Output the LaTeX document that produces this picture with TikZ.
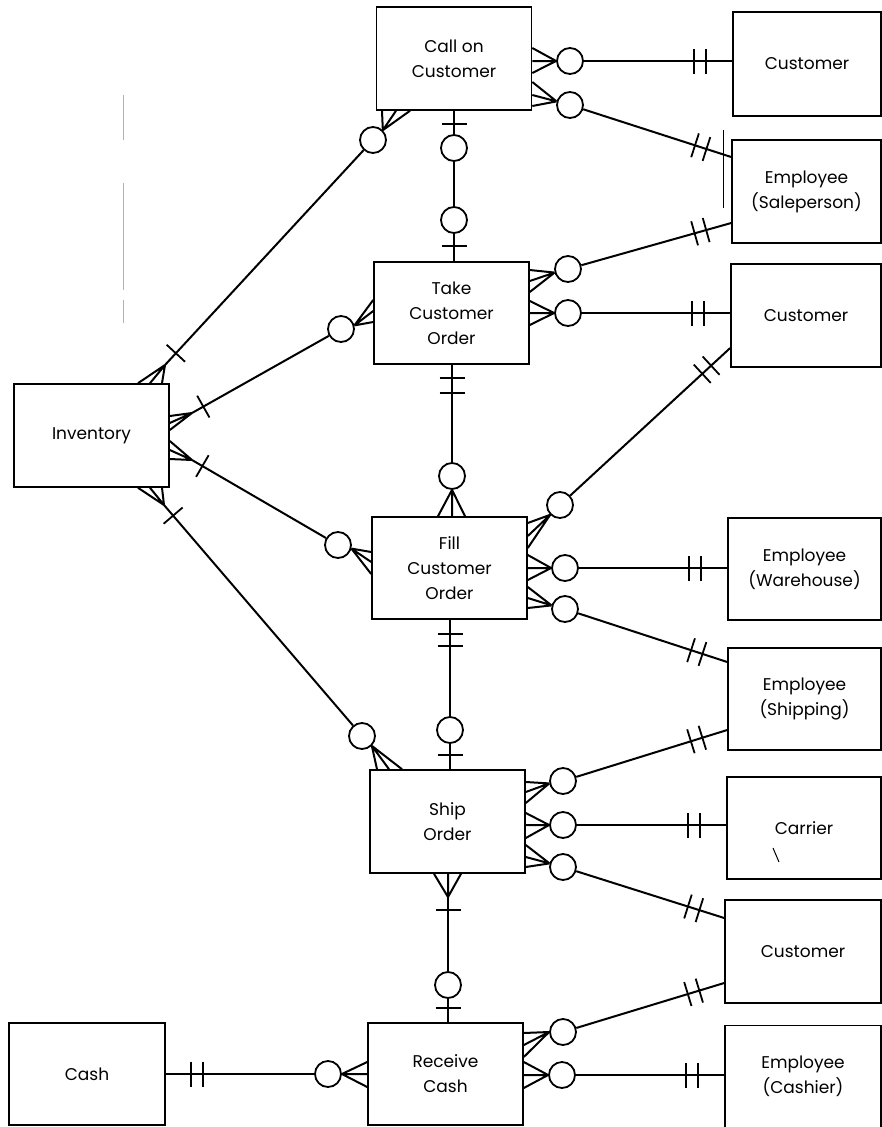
\documentclass[tikz,border=0pt]{standalone}
\usepackage{fontspec}
\setmainfont{Poppins}
\usetikzlibrary{calc,decorations.markings}

% crow's foot: three lines from a meeting point to three points on a box edge
\newcommand\crowfoot[4]{\draw[conn] (#1) -- (#2) (#1) -- (#3) (#1) -- (#4);}

\tikzset{
  box/.style={draw, line width=1.6pt, minimum width=155pt, minimum height=103pt,
    align=center, inner sep=0pt, font=\fontsize{17}{25}\selectfont},
  zc/.style={draw, circle, line width=1.8pt, minimum size=26pt, inner sep=0pt, fill=white},
  conn/.style={line width=2pt},
  crossbar/.style={postaction={decorate, decoration={markings,
    mark=at position #1 with {\draw[line width=1.8pt] (0pt,-12.5pt) -- (0pt,12.5pt);}}}},
  twobars/.style={crossbar=-26pt, crossbar=-38pt},
}

\begin{document}
\begin{tikzpicture}[x=1pt, y=-1pt]
\fill[white] (0,0) rectangle (882,1127);
\useasboundingbox (0,0) rectangle (882,1127);

% ---- event boxes (middle column) ----
\node[box] (call) at (454,58.5) {Call on\\Customer};
\node[box, minimum height=102pt] (take) at (451.5,313) {Take\\Customer\\Order};
\node[box, minimum height=102pt] (fill) at (449.5,568) {Fill\\Customer\\Order};
\node[box] (ship) at (447.5,821.5) {Ship\\Order};
\node[box, minimum height=102pt] (recv) at (445.5,1074) {Receive\\Cash};

% ---- resources (left) ----
\node[box] (inv) at (91.5,435.5) {Inventory};
\node[box, minimum width=156pt, minimum height=102pt] (cash) at (87,1074) {Cash};

% ---- agents (right) ----
\node[box, minimum width=148pt, minimum height=104pt] (cust1) at (807,64) {Customer};
\node[box, minimum width=149pt] (emps) at (806.5,191.5) {Employee\\(Saleperson)};
\node[box, minimum width=150pt] (cust2) at (806,315.5) {Customer};
\node[box, minimum width=153pt, minimum height=102pt] (empw) at (804.5,569) {Employee\\(Warehouse)};
\node[box, minimum width=153pt, minimum height=102pt] (empsh) at (804.5,699) {Employee\\(Shipping)};
\node[box, minimum width=154pt, minimum height=102pt] (carr) at (804,828) {Carrier};
\node[box, minimum width=156pt] (cust3) at (803,951.5) {Customer};
\node[box, minimum width=156pt, minimum height=102pt] (empc) at (803,1076.5) {Employee\\(Cashier)};

% ---- optional-participation circles ----
\node[zc] (c1) at (570,61) {};
\node[zc] (c2) at (570,105) {};
\node[zc] (c3) at (373,140) {};
\node[zc] (c4) at (454,148) {};
\node[zc] (c5) at (454,220) {};
\node[zc] (c6) at (568,269) {};
\node[zc] (c7) at (568,313) {};
\node[zc] (c8) at (341,329) {};
\node[zc] (c9) at (452,476) {};
\node[zc] (c10) at (560,505) {};
\node[zc] (c11) at (565,568) {};
\node[zc] (c12) at (565,609) {};
\node[zc] (c13) at (338,545) {};
\node[zc] (c14) at (450,730) {};
\node[zc] (c15) at (362,736) {};
\node[zc] (c16) at (563,781) {};
\node[zc] (c17) at (563,825) {};
\node[zc] (c18) at (563,867) {};
\node[zc] (c19) at (448,985) {};
\node[zc] (c20) at (563,1032) {};
\node[zc] (c21) at (562,1075) {};
\node[zc] (c22) at (328,1074) {};

% meeting points of the crow's feet at Inventory and below Ship Order
\coordinate (k3) at (165,365);
\coordinate (k8) at (192,413);
\coordinate (k13) at (192,460);
\coordinate (k15) at (164,505);
\coordinate (k19) at (448,897);

% ---- Call on Customer ----
\draw[conn, twobars] (c1) -- (c1 -| cust1.west);
\crowfoot{c1.west}{call.east |- 0,48}{call.east |- 0,61}{call.east |- 0,73}
\draw[conn, twobars] (c2) -- (emps.west |- 0,157);
\crowfoot{c2.165}{call.east |- 0,82}{call.east |- 0,95}{call.east |- 0,106}
\draw[conn, crossbar=16pt] (k3) -- (c3);
\crowfoot{k3}{inv.north -| 138,0}{inv.north -| 150,0}{inv.north -| 162,0}
\crowfoot{c3.45}{call.south -| 382,0}{call.south -| 396,0}{call.south -| 410,0}
\draw[conn, crossbar=13pt] (call.south) -- (c4);
\draw[conn] (c4) -- (c5);
\draw[conn, crossbar=-15pt] (c5) -- (c5 |- take.north);

% ---- Take Customer Order ----
\draw[conn, twobars] (c6) -- (emps.west |- 0,223);
\crowfoot{c6.195}{take.east |- 0,270}{take.east |- 0,281}{take.east |- 0,292}
\draw[conn, twobars] (c7) -- (c7 -| cust2.west);
\crowfoot{c7.west}{take.east |- 0,301}{take.east |- 0,313}{take.east |- 0,325}
\draw[conn, crossbar=13pt] (k8) -- (c8);
\crowfoot{k8}{inv.east |- 0,416}{inv.east |- 0,423}{inv.east |- 0,430}
\crowfoot{c8.15}{take.west |- 0,300}{take.west |- 0,311}{take.west |- 0,322}
\draw[conn, crossbar=13pt, crossbar=28pt] (c9 |- take.south) -- (c9);
\crowfoot{c9.south}{fill.north -| 438,0}{fill.north -| 452,0}{fill.north -| 465,0}

% ---- Fill Customer Order ----
\draw[conn, twobars] (c10) -- (cust2.west |- 0,348);
\crowfoot{c10.225}{fill.east |- 0,523}{fill.east |- 0,536}{fill.east |- 0,548}
\draw[conn, twobars] (c11) -- (c11 -| empw.west);
\crowfoot{c11.west}{fill.east |- 0,555}{fill.east |- 0,568}{fill.east |- 0,580}
\draw[conn, twobars] (c12) -- (empsh.west |- 0,662);
\crowfoot{c12.165}{fill.east |- 0,587}{fill.east |- 0,598}{fill.east |- 0,608}
\draw[conn, crossbar=12pt] (k13) -- (c13);
\crowfoot{k13}{inv.east |- 0,441}{inv.east |- 0,450}{inv.east |- 0,459}
\crowfoot{c13.-15}{fill.west |- 0,552}{fill.west |- 0,562}{fill.west |- 0,574}
\draw[conn, crossbar=14pt, crossbar=26pt] (c14 |- fill.south) -- (c14);
\draw[conn, crossbar=-14pt] (c14) -- (c14 |- ship.north);

% ---- Ship Order ----
\draw[conn, crossbar=14pt] (k15) -- (c15);
\crowfoot{k15}{inv.south -| 138,0}{inv.south -| 150,0}{inv.south -| 162,0}
\crowfoot{c15.-45}{ship.north -| 377,0}{ship.north -| 389,0}{ship.north -| 402,0}
\draw[conn, twobars] (c16) -- (empsh.west |- 0,730);
\crowfoot{c16.190}{ship.east |- 0,782}{ship.east |- 0,792}{ship.east |- 0,803}
\draw[conn, twobars] (c17) -- (c17 -| carr.west);
\crowfoot{c17.west}{ship.east |- 0,813}{ship.east |- 0,825}{ship.east |- 0,838}
\draw[conn, twobars] (c18) -- (cust3.west |- 0,918);
\crowfoot{c18.165}{ship.east |- 0,845}{ship.east |- 0,857}{ship.east |- 0,867}
\crowfoot{k19}{ship.south -| 434,0}{ship.south -| 448,0}{ship.south -| 461,0}
\draw[conn, crossbar=13pt] (k19) -- (c19);
\draw[conn, crossbar=-14pt] (c19) -- (c19 |- recv.north);

% ---- Receive Cash ----
\draw[conn, twobars] (c20) -- (cust3.west |- 0,983);
\crowfoot{c20.west}{recv.east |- 0,1033}{recv.east |- 0,1045}{recv.east |- 0,1057}
\draw[conn, twobars] (c21) -- (c21 -| empc.west);
\crowfoot{c21.west}{recv.east |- 0,1062}{recv.east |- 0,1075}{recv.east |- 0,1088}
\draw[conn, crossbar=-25pt, crossbar=-37pt] (c22) -- (c22 -| cash.east);
\crowfoot{c22.east}{recv.west |- 0,1062}{recv.west |- 0,1074}{recv.west |- 0,1087}

% ---- stray marks on the sheet ----
\draw[gray!60, line width=0.6pt] (123,95) -- (123,140) (123,183) -- (123,290) (123,300) -- (123,323);
\draw[line width=0.8pt] (723,130) -- (723,208);
\draw[line width=1pt] (773,848) -- (779,862);
\end{tikzpicture}
\end{document}
